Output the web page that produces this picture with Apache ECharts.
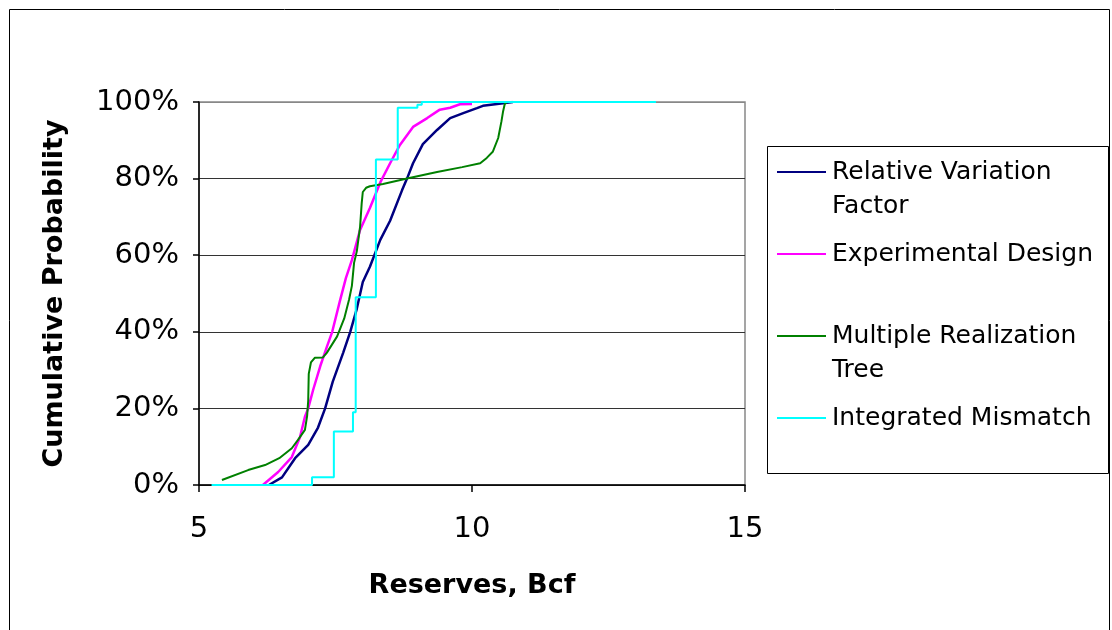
<!DOCTYPE html>
<html>
<head>
<meta charset="utf-8">
<title>Cumulative Probability of Reserves</title>
<script src="https://cdn.jsdelivr.net/npm/echarts@6/dist/echarts.min.js"></script>
<style>
  html, body { margin: 0; padding: 0; background: #fff; }
  #chart { width: 1112px; height: 630px; }
</style>
</head>
<body>
<div id="chart"></div>
<script>
// Reserves (Bcf) and cumulative probability (%) for each method
const rvfX = [6.28, 6.52, 6.76, 7.00, 7.18, 7.31, 7.45, 7.64, 7.77, 7.89, 8.00, 8.13, 8.32, 8.50, 8.72, 8.81, 8.92, 9.10, 9.36, 9.60, 9.84, 10.09, 10.20, 10.46, 10.75];
const rvfP = [0, 2, 7, 10.5, 15, 20, 27, 34.5, 40, 46, 53, 57, 64, 69, 77, 80, 84, 89, 92.7, 95.8, 97.1, 98.4, 99, 99.5, 100];

const edX = [6.17, 6.45, 6.70, 6.85, 6.94, 7.00, 7.09, 7.22, 7.34, 7.44, 7.58, 7.69, 7.80, 7.95, 8.13, 8.32, 8.50, 8.68, 8.92, 9.18, 9.41, 9.60, 9.78, 10.00];
const edP = [0, 3.4, 7.3, 12.5, 17.8, 20, 24.8, 31, 36, 40, 48, 54, 58.7, 66.6, 72.3, 79, 84, 88.8, 93.5, 95.8, 98, 98.5, 99.4, 99.5];

const mrtX = [5.42, 5.90, 6.21, 6.47, 6.70, 6.81, 6.94, 6.98, 7.00, 7.01, 7.05, 7.12, 7.27, 7.34, 7.53, 7.66, 7.75, 7.80, 7.84, 7.89, 7.95, 7.98, 8.00, 8.06, 8.13, 8.37, 8.81, 9.36, 9.82, 10.15, 10.27, 10.38, 10.48, 10.54, 10.57, 10.60, 10.64];
const mrtP = [1.3, 3.9, 5.2, 7, 9.6, 11.7, 14.4, 18, 22, 29, 32, 33.2, 33.3, 34.5, 38.8, 43.5, 48.5, 52, 58, 61, 67.4, 73.6, 76.5, 77.6, 78, 78.6, 80, 81.7, 83, 84, 85.4, 87, 90.6, 95, 97.6, 99.5, 100];

// step breakpoints: probability holds until the next reserve value
const imX = [5.23, 7.07, 7.47, 7.82, 7.87, 8.24, 8.64, 9.00, 9.08, 13.37];
const imP = [0, 2, 14, 19, 49, 85, 98.5, 99.3, 100, 100];

const seriesNames = ['Relative Variation Factor', 'Experimental Design', 'Multiple Realization Tree', 'Integrated Mismatch'];
const legendLabels = ['Relative Variation\nFactor', 'Experimental Design\n ', 'Multiple Realization\nTree', 'Integrated Mismatch\n '];
const seriesColors = ['#000080', '#FF00FF', '#008000', '#00FFFF'];

const xTicks = { min: 5, max: 15, step: 5 };
const yTicks = { min: 0, max: 100, step: 20 };

const pairs = (xs, ys) => xs.map((x, i) => [x, ys[i]]);

const chart = echarts.init(document.getElementById('chart'), null, { renderer: 'canvas' });

const FONT = 'DejaVu Sans';

chart.setOption({
  animation: false,
  backgroundColor: '#ffffff',
  grid: {
    left: 199, right: 367, top: 102, bottom: 145,
    show: true, borderColor: '#888888', borderWidth: 1.5, backgroundColor: 'transparent',
    containLabel: false, outerBoundsMode: 'none'
  },
  xAxis: {
    type: 'value',
    min: xTicks.min, max: xTicks.max, interval: xTicks.step,
    name: 'Reserves, Bcf',
    nameLocation: 'middle',
    nameGap: 87,
    nameTextStyle: { fontFamily: FONT, fontWeight: 'bold', fontSize: 27, color: '#000' },
    axisLine: { show: true, onZero: false, lineStyle: { color: '#000', width: 1.5 } },
    axisTick: { show: true, length: 7, lineStyle: { color: '#000', width: 1.5 } },
    axisLabel: { fontFamily: FONT, fontSize: 29, color: '#000', margin: 30 },
    splitLine: { show: false }
  },
  yAxis: {
    type: 'value',
    min: yTicks.min, max: yTicks.max, interval: yTicks.step,
    name: 'Cumulative Probability',
    nameLocation: 'middle',
    nameGap: 131,
    nameTextStyle: { fontFamily: FONT, fontWeight: 'bold', fontSize: 27, color: '#000' },
    axisLine: { show: true, onZero: false, lineStyle: { color: '#000', width: 1.5 } },
    axisTick: { show: true, length: 6, lineStyle: { color: '#000', width: 1.5 } },
    axisLabel: { fontFamily: FONT, fontSize: 29, color: '#000', margin: 20, formatter: '{value}%' },
    splitLine: { show: true, lineStyle: { color: ['#333', '#333', '#333', '#333', '#333', '#888'], width: 1 } }
  },
  legend: {
    orient: 'vertical',
    left: 777, top: 155,
    padding: 0,
    itemGap: 14,
    itemWidth: 51,
    itemHeight: 68,
    icon: 'path://M0,0L0.01,0M0,16H49V18H0ZM0,68L0.01,68',
    itemStyle: { borderWidth: 0 },
    selectedMode: false,
    data: seriesNames,
    formatter: name => legendLabels[seriesNames.indexOf(name)],
    textStyle: { fontFamily: FONT, fontSize: 25, color: '#000', lineHeight: 34 }
  },
  graphic: [
    { type: 'rect', shape: { x: 9.5, y: 9.5, width: 1100, height: 640 }, style: { fill: 'none', stroke: '#000', lineWidth: 1 }, silent: true, z: -10 },
    { type: 'rect', shape: { x: 767.5, y: 146.5, width: 341, height: 327 }, style: { fill: 'none', stroke: '#000', lineWidth: 1 }, silent: true }
  ],
  series: [
    { name: seriesNames[0], type: 'line', data: pairs(rvfX, rvfP), symbol: 'none', color: seriesColors[0], lineStyle: { width: 2.5 } },
    { name: seriesNames[1], type: 'line', data: pairs(edX, edP), symbol: 'none', color: seriesColors[1], lineStyle: { width: 2.5 } },
    { name: seriesNames[2], type: 'line', data: pairs(mrtX, mrtP), symbol: 'none', color: seriesColors[2], lineStyle: { width: 2 } },
    { name: seriesNames[3], type: 'line', data: pairs(imX, imP), step: 'end', symbol: 'none', color: seriesColors[3], lineStyle: { width: 2 } }
  ]
});
</script>
</body>
</html>
